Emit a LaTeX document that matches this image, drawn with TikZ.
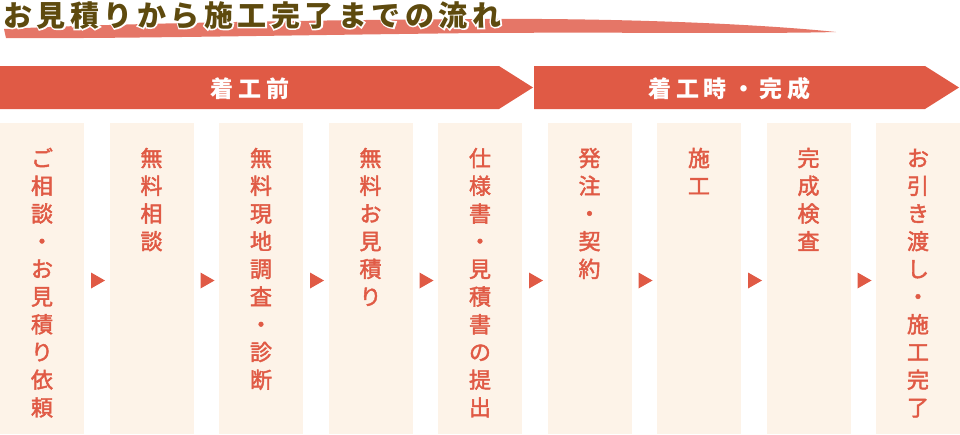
\documentclass[tikz,border=0pt]{standalone}
\usepackage{fontspec}
\newfontfamily\jp{Noto Sans CJK JP}
\newfontfamily\jpm{Noto Sans CJK JP}[FakeBold=2]
\newfontfamily\jpo{Noto Sans CJK JP}[BoldFeatures={FakeBold=11}]
\usetikzlibrary{calc}
\definecolor{brand}{HTML}{E05A45}
\definecolor{boxfill}{HTML}{FDF3E8}
\definecolor{titlec}{HTML}{5E4A0E}
\definecolor{brush}{HTML}{E36A5A}
\newcommand\tk{\kern4.5pt }
\newcommand\bk{\kern5pt }
\newcommand\titletext{お\tk 見\tk 積\tk り\tk か\tk ら\tk 施\tk 工\tk 完\tk 了\tk ま\tk で\tk の\tk 流\tk れ}
\begin{document}
\begin{tikzpicture}[x=1pt,y=-1pt,
  stepbox/.style={fill=boxfill, draw=none, minimum width=84pt, minimum height=311pt, anchor=north west, inner sep=0pt, outer sep=0pt},
  vchar/.style={font=\jpm\fontsize{22}{22}\selectfont, text=brand, inner sep=0pt, text height=19.4pt, text depth=2.6pt, anchor=center},
  banner/.style={fill=brand},
  bannertext/.style={font=\jp\bfseries\fontsize{23}{23}\selectfont, text=white, inner sep=0pt, text height=20.2pt, text depth=2.8pt},
  titlefont/.style={inner sep=0pt, anchor=base west},
  flowtri/.style={fill=brand}]
\useasboundingbox (0,0) rectangle (960,434);

% brush stroke under title
\fill[brush, opacity=0.92] (4,29) .. controls (100,24) and (300,20) .. (480,19)
  .. controls (620,18) and (760,24) .. (836,32)
  .. controls (760,34) and (620,32) .. (480,33)
  .. controls (300,35) and (100,39) .. (6,38) -- cycle;

% title with white outline
\node[titlefont, text=white, font=\jpo\bfseries\fontsize{29}{29}\selectfont] (tout) at (3,26) {\titletext};
\node[titlefont, text=titlec, font=\jp\bfseries\fontsize{29}{29}\selectfont] (title) at (3,26) {\titletext};

% banners
\fill[banner] (0,66) -- (499,66) -- (533,87.5) -- (499,109) -- (0,109) -- cycle;
\fill[banner] (534,66) -- (925,66) -- (959,87.5) -- (925,109) -- (534,109) -- cycle;
\node[bannertext] (ban1) at (250,88.5) {着\bk 工\bk 前};
\node[bannertext] (ban2) at (729.5,88.5) {着\bk 工\bk 時\bk ・\bk 完\bk 成};

% step boxes with vertical text
\foreach \t [count=\i] in {{ご,相,談,・,お,見,積,り,依,頼},{無,料,相,談},{無,料,現,地,調,査,・,診,断},{無,料,お,見,積,り},{仕,様,書,・,見,積,書,の,提,出},{発,注,・,契,約},{施,工},{完,成,検,査},{お,引,き,渡,し,・,施,工,完,了}} {
  \node[stepbox] (b\i) at ({(\i-1)*109.5},123) {};
  \foreach \c [count=\j] in \t {
    \node[vchar] (b\i-\j) at ({(\i-1)*109.5+42},{158+(\j-1)*27.7}) {\c};
  }
}

% flow triangles between boxes
\foreach \i in {1,...,8}
  \fill[flowtri] ($(b\i.east)+(7,-6)$) -- ++(14,8) -- ++(-14,8) -- cycle;
\end{tikzpicture}
\end{document}
